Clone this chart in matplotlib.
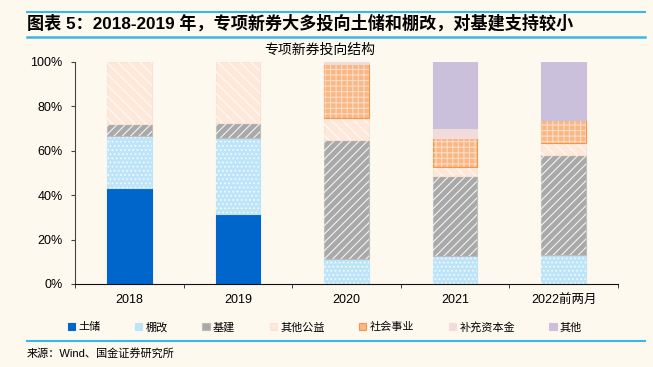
import matplotlib.pyplot as plt
import numpy as np
from matplotlib.lines import Line2D

plt.rcParams['font.family'] = ['Liberation Sans', 'Noto Sans CJK SC']
plt.rcParams['hatch.linewidth'] = 0.8

# 数据（%）
years = ['2018', '2019', '2020', '2021', '2022前两月']
series = ['土储', '棚改', '基建', '其他公益', '社会事业', '补充资本金', '其他']
tuchu = [43.4, 31.5, 0, 0, 0]
penggai = [23.1, 34.1, 11.1, 12.5, 12.9]
jijian = [5.5, 6.9, 53.6, 36.1, 45.4]
qita_gongyi = [28.0, 27.5, 10.2, 4.2, 5.4]
shehui = [0, 0, 24.2, 13.1, 10.2]
buchong = [0, 0, 0.9, 4.4, 0]
qita = [0, 0, 0, 29.7, 26.1]

values = [tuchu, penggai, jijian, qita_gongyi, shehui, buchong, qita]
faces = ['#0066CC', '#BDE4F8', '#A9A9A9', '#FDE8DA', '#F9B786', '#F2DCDB', '#CBC0DB']
edges = ['#0066CC', '#BDE4F8', '#BDBDBD', '#FBE3D4', '#F7964A', '#F2DCDB', '#CBC0DB']
hatches = [None, '....', '////', '\\\\\\', '+++', None, None]
hatch_alpha = [0, 0.75, 0.85, 0.85, 0.5, 0, 0]

bg = '#FEF9EF'
fig = plt.figure(figsize=(6.53, 3.67), dpi=100, facecolor=bg)
ax = fig.add_axes([0.1149, 0.2262, 0.8315, 0.6050], facecolor=bg)

x = np.arange(len(years))
width = 0.41
bottom = np.zeros(len(years))
handles = []
for name, vals, fc, ec, h, ha in zip(series, values, faces, edges, hatches, hatch_alpha):
    v = np.array(vals, dtype=float) / 100
    hv = np.where(v > 0, v, np.nan)  # 零值不画
    b = ax.bar(x, hv, width, bottom=bottom, color=fc, edgecolor=ec, linewidth=0.8, label=name)
    if h:
        ax.bar(x, hv, width, bottom=bottom, color='none', edgecolor=(1, 1, 1, ha),
               linewidth=0, hatch=h)
    handles.append(b)
    bottom += v

ax.set_xlim(-0.5, len(years) - 0.5)
ax.set_ylim(0, 1)
ax.set_yticks(np.linspace(0, 1, 6))
ax.set_yticklabels([f'{int(t)}%' for t in np.linspace(0, 100, 6)], fontsize=9)
ax.set_xticks(x)
ax.set_xticklabels(years, fontsize=9)
ax.set_xticks(np.arange(-0.5, len(years)), minor=True)
ax.tick_params(axis='x', which='major', length=0, pad=7)
ax.tick_params(axis='x', which='minor', length=3, direction='out', color='#222222')
ax.tick_params(axis='y', length=3, direction='out', color='#444444', pad=6)
for s in ['top', 'right']:
    ax.spines[s].set_visible(False)
ax.spines['left'].set_color('#444444')
ax.spines['bottom'].set_color('#111111')

fig.text(320 / 653, 1 - 50 / 367, '专项新券投向结构', fontsize=10, ha='center', va='center')

fig.legend(handles=handles, labels=series, loc='center', bbox_to_anchor=(325 / 653, 1 - 327 / 367),
           ncol=7, frameon=False, fontsize=8, handlelength=0.65, handleheight=0.65,
           handletextpad=0.3, columnspacing=3.1)

# 标题与装饰线
line_c = '#3DB5E8'
fig.add_artist(Line2D([27 / 653, 645 / 653], [1 - 12 / 367] * 2, color=line_c, lw=1.5))
fig.add_artist(Line2D([27 / 653, 645 / 653], [1 - 37 / 367] * 2, color=line_c, lw=1.8))
fig.add_artist(Line2D([27 / 653, 645 / 653], [1 - 341 / 367] * 2, color=line_c, lw=1.5))
fig.text(27 / 653, 1 - 23 / 367, '图表 5：2018-2019 年，专项新券大多投向土储和棚改，对基建支持较小',
         fontsize=12.3, fontweight='bold', va='center', ha='left')
fig.text(27 / 653, 1 - 353 / 367, '来源：Wind、国金证券研究所', fontsize=8, va='center', ha='left')

fig.savefig('out.png', dpi=100, facecolor=bg)
